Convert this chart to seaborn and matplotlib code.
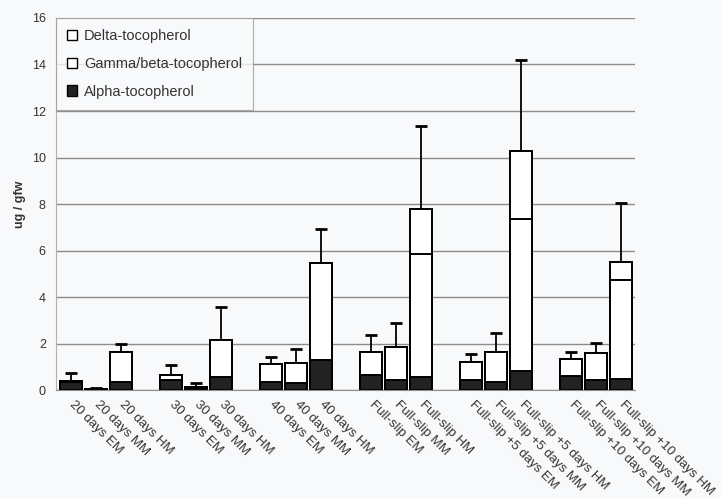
import numpy as np
import pandas as pd
import matplotlib
matplotlib.use("Agg")
import matplotlib.pyplot as plt
import seaborn as sns
from matplotlib.patches import Patch

# values (ug / gfw)
groups = ["20 days", "30 days", "40 days", "Full-slip", "Full-slip +5 days", "Full-slip +10 days"]
stages = ["EM", "MM", "HM"]
alpha = [0.36, 0.03, 0.36, 0.45, 0.08, 0.55, 0.37, 0.29, 1.32,
         0.65, 0.46, 0.57, 0.43, 0.36, 0.83, 0.60, 0.46, 0.50]
gamma = [0.04, 0.02, 1.29, 0.22, 0.06, 1.60, 0.75, 0.86, 4.13,
         1.00, 1.40, 5.27, 0.79, 1.29, 6.55, 0.76, 1.12, 4.23]
delta = [0.00, 0.00, 0.00, 0.00, 0.00, 0.00, 0.00, 0.00, 0.00,
         0.00, 0.00, 1.97, 0.00, 0.00, 2.91, 0.00, 0.00, 0.79]
sd = [0.33, 0.04, 0.33, 0.41, 0.16, 1.43, 0.31, 0.64, 1.47,
      0.72, 1.01, 3.54, 0.33, 0.83, 3.91, 0.29, 0.45, 2.54]

labels = [g + " " + s for g in groups for s in stages]
pos = [4 * gi + si for gi in range(len(groups)) for si in range(len(stages))]

df = pd.DataFrame({"pos": pos, "label": labels, "alpha": alpha,
                   "gamma": gamma, "delta": delta, "sd": sd})
df["ag"] = df["alpha"] + df["gamma"]
df["total"] = df["ag"] + df["delta"]

sns.set_style("white")
plt.rcParams["font.family"] = ["Liberation Sans", "DejaVu Sans"]
bg = "#f8f9fb"
txt = "#333333"

fig, ax = plt.subplots(figsize=(7.21, 4.99), dpi=100)
fig.patch.set_facecolor(bg)
ax.set_facecolor(bg)
fig.subplots_adjust(left=0.078, right=0.881, bottom=0.218, top=0.964)

# stacked bars drawn as overlapping cumulative layers
for col, color in [("total", "white"), ("ag", "white"), ("alpha", "#222222")]:
    sns.barplot(data=df, x="pos", y=col, native_scale=True, color=color,
                saturation=1, edgecolor="black", linewidth=1.4, width=0.88,
                errorbar=None, ax=ax, zorder=2)

ax.errorbar(df["pos"], df["total"], yerr=[np.zeros(len(df)), df["sd"]],
            fmt="none", ecolor="black", elinewidth=1.3, capsize=4,
            capthick=2, zorder=1)

ax.set_xlim(-0.6, 22.56)
ax.set_ylim(0, 16)
ax.set_yticks(range(0, 17, 2))
ax.yaxis.grid(True, color="#8c8c8c", linewidth=1)
ax.set_axisbelow(True)
for s in ["top", "right"]:
    ax.spines[s].set_visible(False)
ax.spines["left"].set_color("#b0b0b0")
ax.spines["bottom"].set_color("#8c8c8c")

ax.set_xticks(pos)
ax.set_xticklabels(labels, rotation=-45, ha="left", va="center",
                   rotation_mode="anchor", fontsize=9.5, color=txt)
ax.tick_params(axis="x", length=0, pad=9)
ax.tick_params(axis="y", length=4, labelsize=9, labelcolor=txt, color="#999999")
ax.set_xlabel("")
ax.set_ylabel("ug / gfw", fontsize=9, color=txt, fontweight="bold")

handles = [Patch(facecolor="white", edgecolor="black", label="Delta-tocopherol"),
           Patch(facecolor="white", edgecolor="black", label="Gamma/beta-tocopherol"),
           Patch(facecolor="#222222", edgecolor="black", label="Alpha-tocopherol")]
leg = ax.legend(handles=handles, loc="upper left", bbox_to_anchor=(0.0, 1.0),
                fontsize=10.5, frameon=True, fancybox=False, borderaxespad=0,
                handlelength=0.7, handleheight=0.7, handletextpad=0.45,
                labelspacing=0.95, borderpad=0.75, labelcolor=txt)
leg.get_frame().set_edgecolor("#999999")
leg.get_frame().set_facecolor(bg)
leg.get_frame().set_linewidth(0.8)

fig.savefig("out.png", dpi=100, facecolor=bg)
